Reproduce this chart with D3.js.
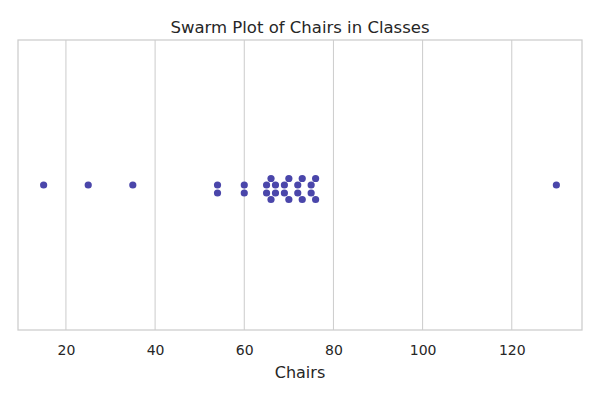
<!DOCTYPE html>
<html>
<head>
  <meta charset="utf-8">
  <title>Swarm Plot of Chairs in Classes</title>
  <script src="https://d3js.org/d3.v7.min.js"></script>
  <style>
    body { margin: 0; background: #fff; }
    svg text { font-family: "DejaVu Sans", sans-serif; fill: #262626; }
    .grid line { stroke: #cccccc; stroke-width: 1px; }
    .frame { fill: none; stroke: #cccccc; stroke-width: 1.25px; }
  </style>
</head>
<body>
  <svg width="600" height="400"></svg>

  <script>
    // chairs per class
    const chairs = [15, 25, 35, 54, 54, 60, 60, 65, 65, 66, 66, 67, 67,
                    69, 69, 70, 70, 72, 72, 73, 73, 75, 75, 76, 76, 130];
    const xTicks = [20, 40, 60, 80, 100, 120];

    const width = 600, height = 400;
    const margin = { top: 40, right: 18, bottom: 70, left: 18 };
    const plotW = width - margin.left - margin.right;
    const plotH = height - margin.top - margin.bottom;

    const svg = d3.select("svg");

    // 5% padding like matplotlib
    const lo = d3.min(chairs), hi = d3.max(chairs);
    const pad = (hi - lo) * 0.05;
    const x = d3.scaleLinear()
      .domain([lo - pad, hi + pad])
      .range([margin.left, margin.left + plotW]);

    const midY = margin.top + plotH / 2;

    // grid
    svg.append("g")
      .attr("class", "grid")
      .selectAll("line")
      .data(xTicks)
      .enter().append("line")
      .attr("x1", d => x(d)).attr("x2", d => x(d))
      .attr("y1", margin.top).attr("y2", margin.top + plotH);

    // axis labels via d3 axis, no tick marks / domain
    const axis = svg.append("g")
      .attr("transform", `translate(0,${margin.top + plotH})`)
      .call(d3.axisBottom(x).tickValues(xTicks).tickSize(0));
    axis.select(".domain").remove();
    axis.selectAll("text")
      .attr("y", 25)
      .attr("dy", 0)
      .style("font-family", "'DejaVu Sans', sans-serif")
      .style("font-size", "14px")
      .attr("fill", "#262626");

    svg.append("rect")
      .attr("class", "frame")
      .attr("x", margin.left).attr("y", margin.top)
      .attr("width", plotW).attr("height", plotH);

    // beeswarm placement (seaborn style), in pixels
    const r = 3.6;          // drawn radius
    const rc = 3.81;        // collision radius
    const pts = chairs.slice().sort((a, b) => a - b).map(v => ({ v: v, px: x(v), off: 0 }));
    const placed = [];
    pts.forEach((p, i) => {
      if (i === 0) { placed.push(p); return; }
      const nb = [];
      for (let j = placed.length - 1; j >= 0; j--) {
        if (p.px - placed[j].px < 2 * rc) nb.unshift(placed[j]);
        else break;
      }
      let cands = [0];
      nb.forEach(q => {
        const dy = p.px - q.px;
        const dx = Math.sqrt(Math.max(4 * rc * rc - dy * dy, 0)) * 1.05;
        cands.push(q.off + dx, q.off - dx);
      });
      cands = cands.map((c, k) => ({ c, k }))
        .sort((a, b) => (Math.abs(a.c) - Math.abs(b.c)) || (a.k - b.k))
        .map(o => o.c);
      for (const c of cands) {
        const ok = nb.every(q => {
          const dx = c - q.off, dy = p.px - q.px;
          return dx * dx + dy * dy >= 4 * rc * rc - 1e-9;
        });
        if (ok) { p.off = c; break; }
      }
      placed.push(p);
    });

    svg.append("g")
      .selectAll("circle")
      .data(placed)
      .enter().append("circle")
      .attr("cx", d => d.px)
      .attr("cy", d => midY + d.off)
      .attr("r", r)
      .attr("fill", "#4a46aa");

    svg.append("text")
      .attr("x", margin.left + plotW / 2)
      .attr("y", 33)
      .attr("text-anchor", "middle")
      .style("font-size", "16.5px")
      .text("Swarm Plot of Chairs in Classes");

    svg.append("text")
      .attr("x", margin.left + plotW / 2)
      .attr("y", 378)
      .attr("text-anchor", "middle")
      .style("font-size", "16px")
      .text("Chairs");
  </script>
</body>
</html>
